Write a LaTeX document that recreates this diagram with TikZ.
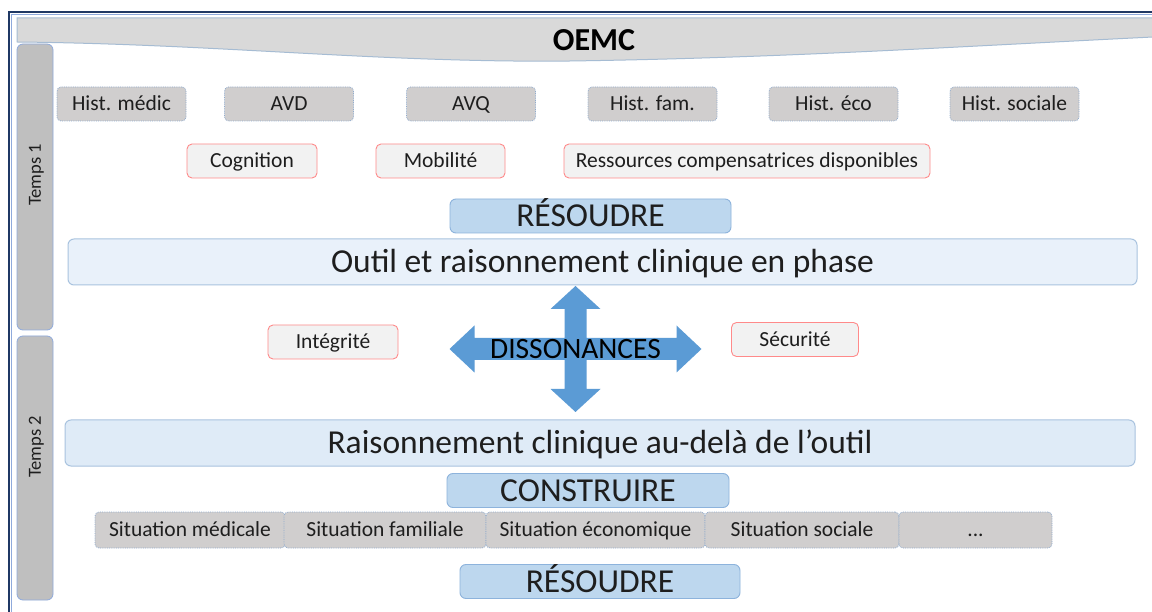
\documentclass[tikz,border=0pt]{standalone}
\usepackage{fontspec}
\setmainfont{Carlito}
\definecolor{framenavy}{HTML}{1F3864}
\definecolor{frameblue}{HTML}{8FAADC}
\definecolor{bandfill}{HTML}{D9D9D9}
\definecolor{bandline}{HTML}{A6BCD3}
\definecolor{barfill}{HTML}{BFBFBF}
\definecolor{barline}{HTML}{8FAADC}
\definecolor{grayfill}{HTML}{D0CECE}
\definecolor{dotline}{HTML}{8FAACC}
\definecolor{redline}{HTML}{FF8A8A}
\definecolor{redfill}{HTML}{F2F2F2}
\definecolor{actfill}{HTML}{BDD7EE}
\definecolor{actline}{HTML}{8DB3DC}
\definecolor{phasefill}{HTML}{E9F1FA}
\definecolor{phasefillb}{HTML}{DFEBF7}
\definecolor{phaseline}{HTML}{A9C3DF}
\definecolor{arrowblue}{HTML}{5B9BD5}
\definecolor{txtdark}{HTML}{1E1E1E}
\tikzset{
  % capitals centred vertically: text height - text depth = cap height (0.644 em)
  capcentred/.style={text height=0.744*#1, text depth=0.1*#1},
  histbox/.style={rounded corners=4pt, fill=grayfill, draw=dotline, densely dotted,
    line width=0.8pt, minimum width=129pt, minimum height=34pt, inner sep=0pt,
    font=\fontsize{21.5}{24}\selectfont, text=txtdark, capcentred=21.5pt},
  sitbox/.style={histbox, minimum height=36pt},
  critbox/.style={rounded corners=5pt, fill=redfill, draw=redline, line width=0.9pt,
    minimum height=34pt, inner sep=0pt, font=\fontsize{21.5}{24}\selectfont, text=txtdark,
    capcentred=21.5pt},
  actbox/.style={rounded corners=6pt, fill=actfill, draw=actline, line width=0.9pt,
    minimum height=34pt, inner sep=0pt, font=\fontsize{33.5}{36}\selectfont, text=txtdark,
    capcentred=33.5pt},
  phasebox/.style={rounded corners=6pt, fill=phasefill, draw=phaseline, line width=1pt,
    minimum height=46pt, inner sep=0pt, font=\fontsize{33.5}{36}\selectfont, text=txtdark,
    capcentred=33.5pt},
  timebar/.style={rounded corners=6pt, fill=barfill, draw=barline, line width=0.8pt},
  timelabel/.style={rotate=90, font=\fontsize{18.5}{20}\selectfont, text=txtdark,
    inner sep=0pt, capcentred=18.5pt},
}
\begin{document}
\begin{tikzpicture}[x=1pt, y=-1pt]
\useasboundingbox (0,0) rectangle (1152,612);
\fill[white] (0,0) rectangle (1152,612);

% outer frame (open to the right and bottom)
\draw[frameblue, line width=0.8pt] (11.5,612) -- (11.5,14.5) -- (1152,14.5);
\draw[framenavy, line width=1.6pt] (9,612) -- (9,12) -- (1152,12);

% title band with a wavy lower edge
\draw[bandline, fill=bandfill, line width=1pt]
  (17,18) -- (1153,18) -- (1153,37)
  .. controls (950,47) and (780,58) .. (570,61)
  .. controls (380,63) and (220,44) .. (17,42) -- cycle;
\node[font=\fontsize{32}{36}\selectfont\bfseries, text=black, inner sep=0pt,
  capcentred=32pt] (title) at (594,40) {OEMC};

% time bars
\draw[timebar] (17,44) rectangle (53,330);
\node[timelabel] (t1) at (35,175) {Temps 1};
\draw[timebar] (17,336) rectangle (53,600);
\node[timelabel] (t2) at (35,447) {Temps 2};

% history boxes
\node[histbox] (hmed) at (121.5,104) {Hist. médic};
\node[histbox] (avd)  at (289,104) {AVD};
\node[histbox] (avq)  at (471,104) {AVQ};
\node[histbox] (hfam) at (652.5,104) {Hist. fam.};
\node[histbox] (heco) at (833.5,104) {Hist. éco};
\node[histbox] (hsoc) at (1014.5,104) {Hist. sociale};

% criteria boxes
\node[critbox, minimum width=130pt] (cog) at (252,161) {Cognition};
\node[critbox, minimum width=129pt] (mob) at (440.5,161) {Mobilité};
\node[critbox, minimum width=366pt] (res) at (747,161) {Ressources compensatrices disponibles};

\node[actbox, minimum width=281pt] (solve1) at (590.5,216) {RÉSOUDRE};
\node[phasebox, minimum width=1069pt] (tool) at (602.5,262) {Outil et raisonnement clinique en phase};

% dissonance cross
\coordinate (cross) at (575.5,349);
\fill[arrowblue, shift={(cross)}]
  (0,-63) -- (25,-40) -- (11,-40) -- (11,-11) -- (101,-11) -- (101,-23.5) -- (126,0)
  -- (101,23.5) -- (101,11) -- (11,11) -- (11,40) -- (25,40) -- (0,63)
  -- (-25,40) -- (-11,40) -- (-11,11) -- (-101,11) -- (-101,23.5) -- (-126,0)
  -- (-101,-23.5) -- (-101,-11) -- (-11,-11) -- (-11,-40) -- (-25,-40) -- cycle;
\node[font=\fontsize{29.5}{32}\selectfont, text=black, inner sep=0pt,
  capcentred=29.5pt] (diss) at (cross) {DISSONANCES};

\node[critbox, minimum width=130pt] (integ) at (333,342) {Intégrité};
\node[critbox, minimum width=127pt] (secu) at (795,339.5) {Sécurité};

\node[phasebox, fill=phasefillb, minimum width=1070pt] (beyond) at (600,443) {Raisonnement clinique au-delà de l’outil};
\node[actbox, minimum width=282pt] (build) at (588,490.5) {CONSTRUIRE};

% situation strip
\node[sitbox, minimum width=190pt] (smed) at (190,530) {Situation médicale};
\node[sitbox, minimum width=202pt] (sfam) at (385,530) {Situation familiale};
\node[sitbox, minimum width=219pt] (seco) at (595.5,530) {Situation économique};
\node[sitbox, minimum width=194pt] (ssoc) at (802,530) {Situation sociale};
\node[sitbox, minimum width=153pt] (setc) at (975.5,530) {...};

\node[actbox, minimum width=280pt] (solve2) at (600,581.5) {RÉSOUDRE};
\end{tikzpicture}
\end{document}
